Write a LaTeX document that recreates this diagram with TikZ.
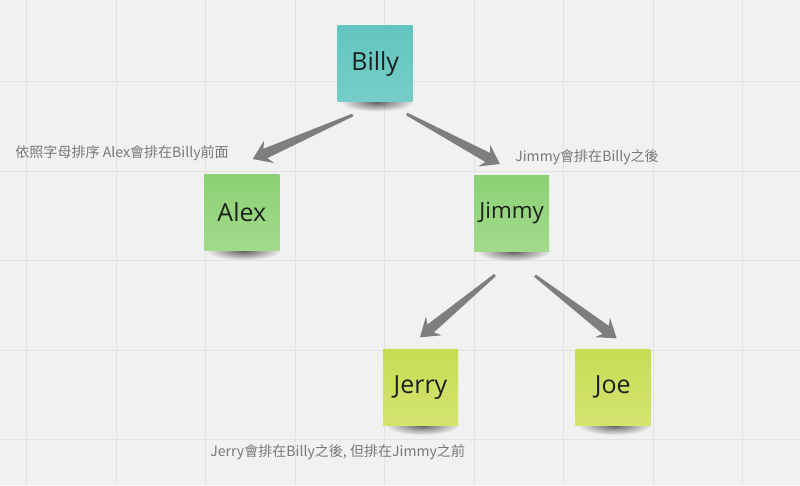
\documentclass[tikz,border=0pt]{standalone}
\usepackage{fontspec}
\setmainfont{Open Sans}
\newfontfamily\cjk{Noto Sans CJK TC}
\usepackage{tikz}
\usetikzlibrary{calc,fadings}

\definecolor{boardbg}{HTML}{F1F1F1}
\definecolor{gridc}{HTML}{E2E2E2}
\definecolor{tealtop}{HTML}{62C6BF}
\definecolor{tealbot}{HTML}{74CEC7}
\definecolor{greentop}{HTML}{8BD174}
\definecolor{greenbot}{HTML}{A2DA8C}
\definecolor{limetop}{HTML}{C8DC52}
\definecolor{limebot}{HTML}{D4E471}
\definecolor{arrowgray}{HTML}{7E7E7E}
\definecolor{remarkgray}{HTML}{787878}
\definecolor{notetext}{HTML}{1E1E1E}

\pgfdeclarelayer{board}
\pgfsetlayers{board,main}

\tikzfading[name=softspot, inner color=transparent!0, outer color=transparent!100]

\tikzset{
  sticky/.style={minimum width=1.5cm, minimum height=1.52cm, inner sep=0pt,
    text=notetext, font=\fontsize{14.2}{16}\selectfont},
  tealnote/.style={sticky, top color=tealtop, bottom color=tealbot},
  greennote/.style={sticky, top color=greentop, bottom color=greenbot},
  limenote/.style={sticky, top color=limetop, bottom color=limebot},
  remark/.style={anchor=west, inner sep=0pt, text=remarkgray,
    font=\cjk\fontsize{8}{10}\selectfont},
  gridline/.style={gridc, line width=0.6pt},
  noteshadow/.style={black, opacity=0.6, path fading=softspot}
}

% tapered arrow from tail #1 to tip #2
\newcommand{\fatarrow}[2]{%
  \coordinate (n) at ($(#2)!7.9pt!(#1)$);
  \coordinate (b) at ($(#2)!10.2pt!(#1)$);
  \fill[arrowgray] ($(#1)!0.8pt!-90:(#2)$) -- ($(n)!2.9pt!90:(#1)$)
    -- ($(b)!7pt!90:(#1)$) -- (#2) -- ($(b)!7pt!-90:(#1)$)
    -- ($(n)!2.9pt!-90:(#1)$) -- ($(#1)!0.8pt!90:(#2)$) -- cycle;}

\begin{document}
\begin{tikzpicture}[x=0.02cm,y=-0.02cm]
\useasboundingbox (0,0) rectangle (800,485);
% sticky notes
\node[tealnote]  (billy) at (375.2,63.7)  {Billy};
\node[greennote] (alex)  at (241.8,212.5) {Alex};
\node[greennote, font=\fontsize{12.7}{15}\selectfont] (jimmy) at (511.6,213.3) {Jimmy};
\node[limenote]  (jerry) at (420.5,387.2) {Jerry};
\node[limenote]  (joe)   at (612.8,387.2) {Joe};
% remarks
\node[remark] (rem-alex)  at (15,153.3)  {依照字母排序 Alex會排在Billy前面};
\node[remark] (rem-jimmy) at (515,157.3) {Jimmy會排在Billy之後};
\node[remark] (rem-jerry) at (210,451.7) {Jerry會排在Billy之後, 但排在Jimmy之前};
% arrows
\coordinate (billy-alex-s)  at (352.7,115);
\coordinate (billy-alex-e)  at (252.7,159);
\coordinate (billy-jimmy-s) at (406.7,114);
\coordinate (billy-jimmy-e) at (500,164);
\coordinate (jimmy-jerry-s) at (495,275);
\coordinate (jimmy-jerry-e) at (420,337.3);
\coordinate (jimmy-joe-s)   at (535,275.7);
\coordinate (jimmy-joe-e)   at (616.7,338.3);
\fatarrow{billy-alex-s}{billy-alex-e}
\fatarrow{billy-jimmy-s}{billy-jimmy-e}
\fatarrow{jimmy-jerry-s}{jimmy-jerry-e}
\fatarrow{jimmy-joe-s}{jimmy-joe-e}
% board
\begin{pgfonlayer}{board}
\fill[boardbg] (0,0) rectangle (800,485);
\foreach \i in {0,...,8} \draw[gridline] ({26.7+89.5*\i},0) -- ({26.7+89.5*\i},485);
\foreach \j in {0,...,4} \draw[gridline] (0,{81.7+89.5*\j}) -- (800,{81.7+89.5*\j});
\foreach \s in {billy,alex,jimmy,jerry,joe}
  \fill[noteshadow] ([xshift=1pt]\s.south) ellipse [x radius=21pt, y radius=5.4pt];
\end{pgfonlayer}
\end{tikzpicture}
\end{document}
